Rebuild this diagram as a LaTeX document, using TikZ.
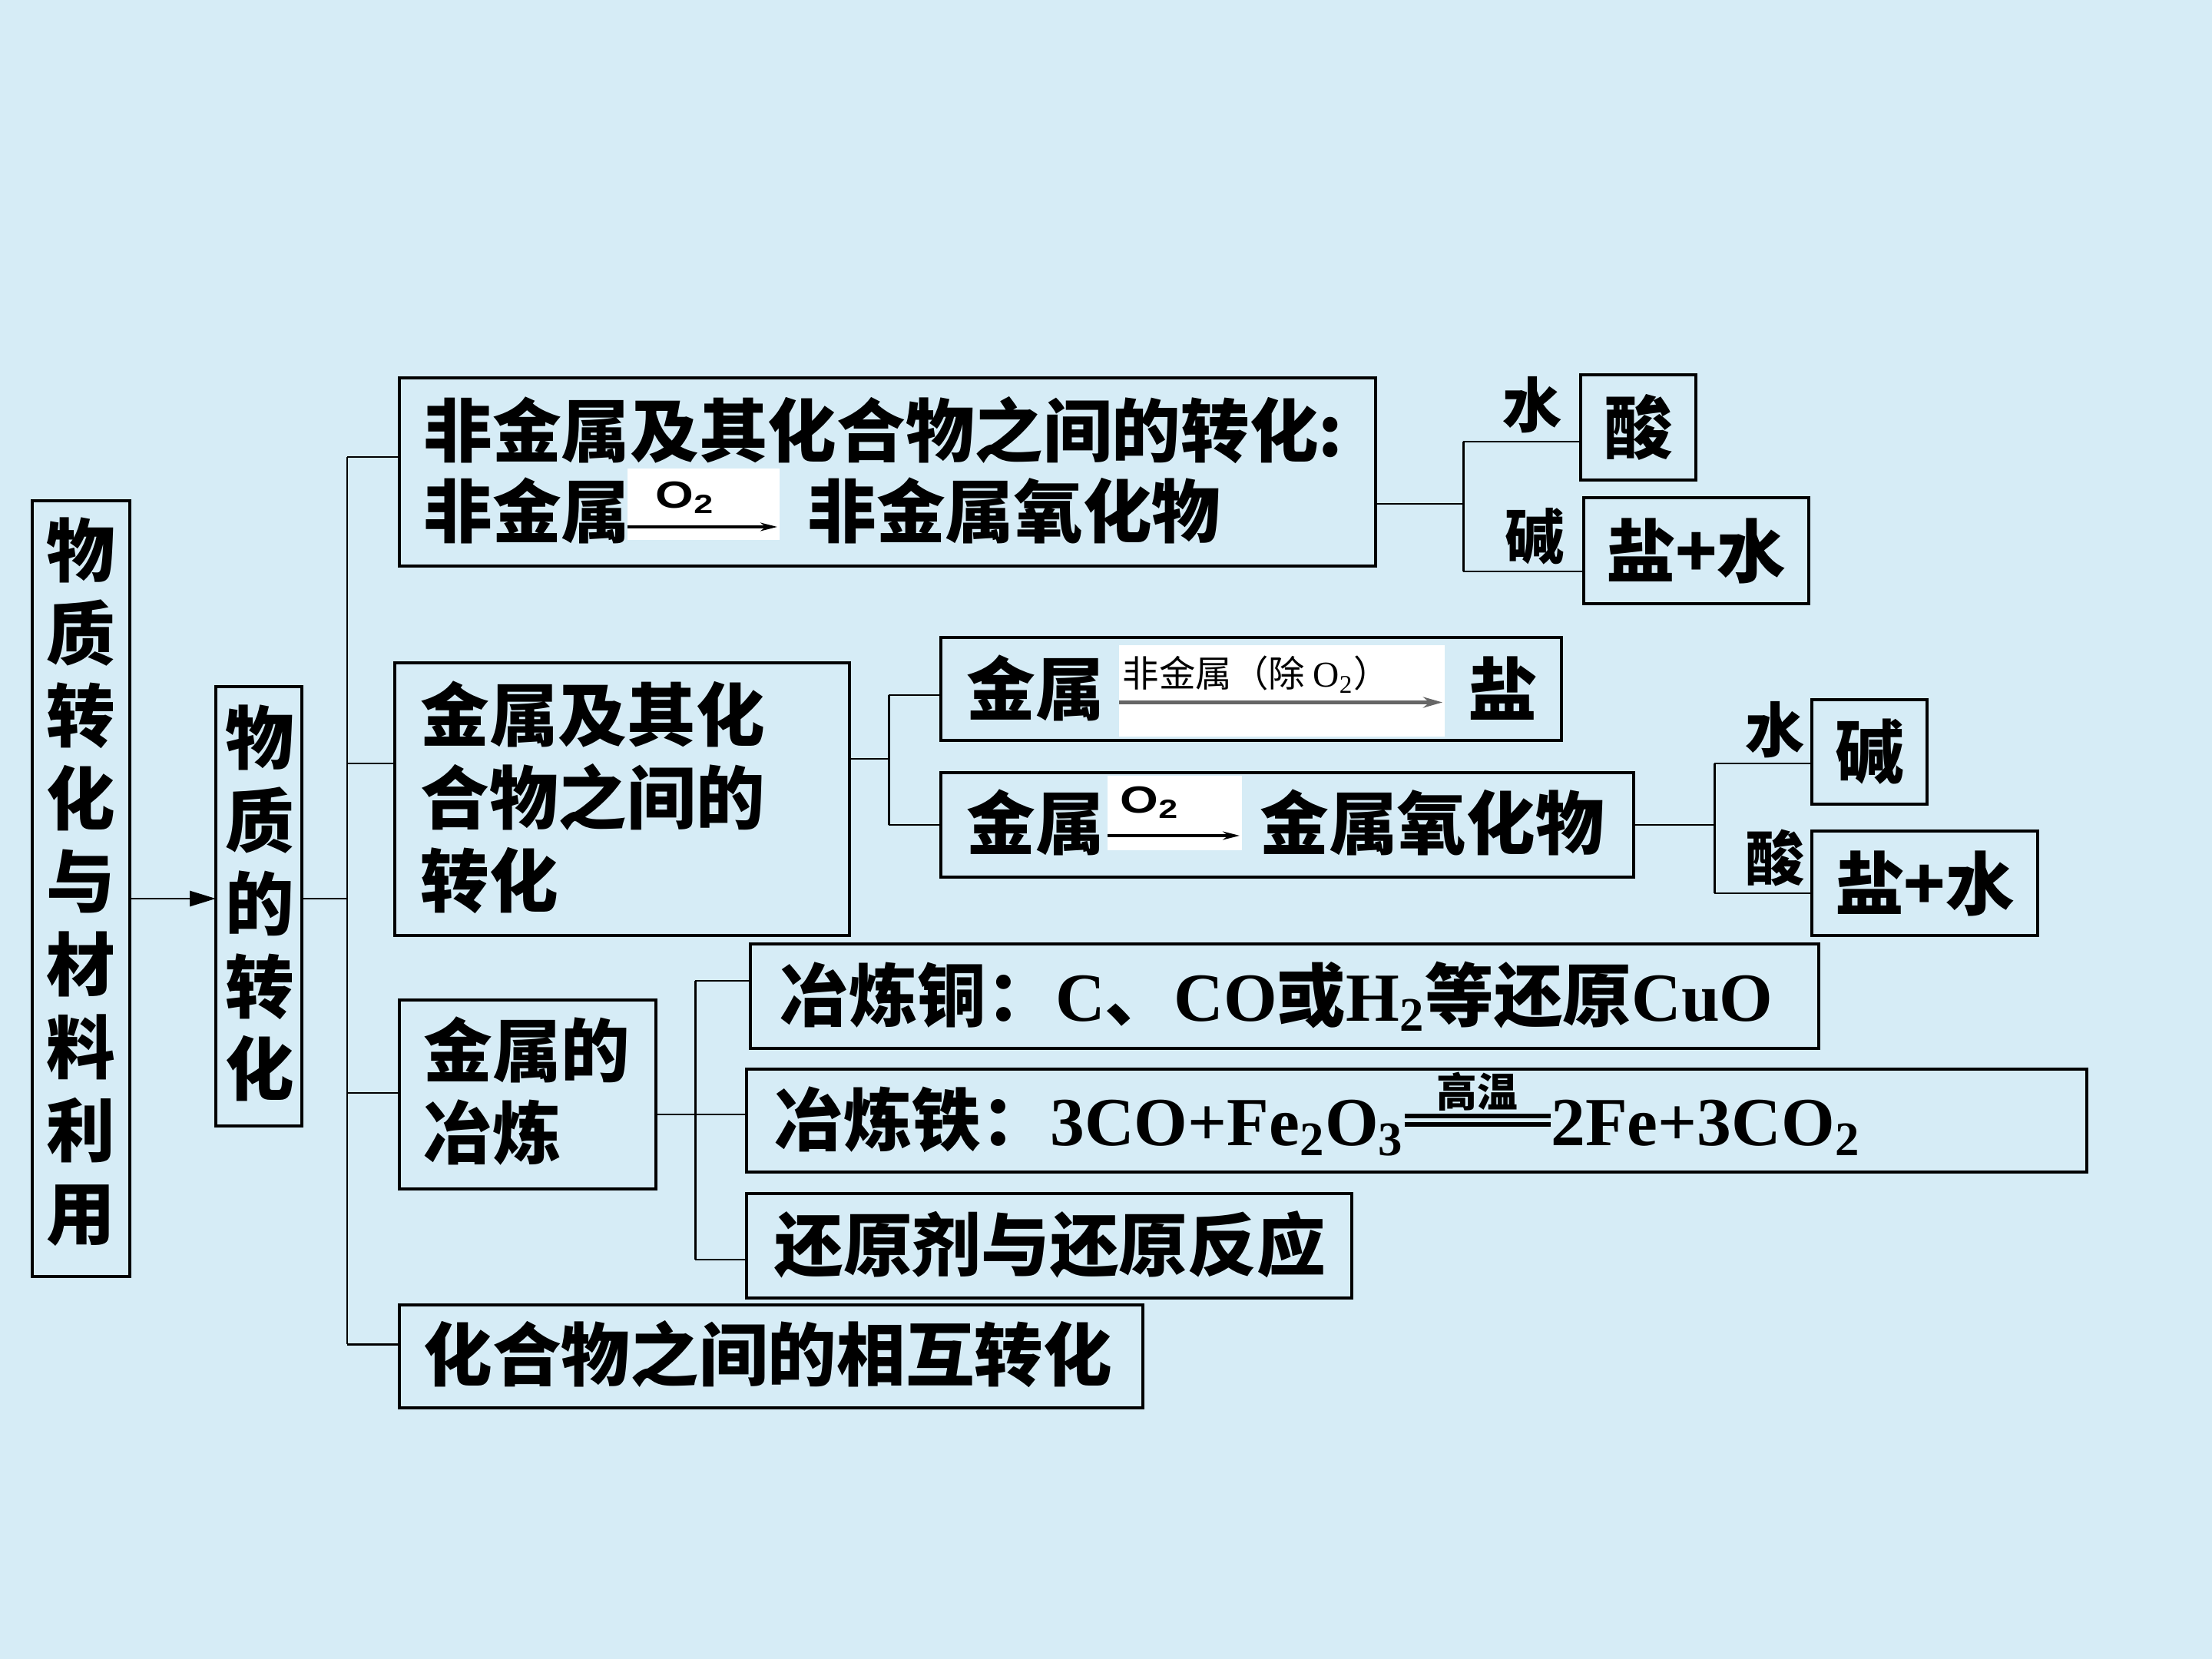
\documentclass[tikz,border=0pt]{standalone}
\usepackage{fontspec}
\setmainfont{Liberation Serif}
\newfontfamily\cjk{Noto Sans CJK SC}
\newfontfamily\sansO{Liberation Sans}
\usetikzlibrary{arrows.meta,calc}
\definecolor{bg}{RGB}{214,236,246}
\newcommand\zh[1]{{\cjk #1}}
\tikzset{
  bx/.style={draw=black,line width=1pt,anchor=north west,inner sep=0pt,outer sep=0pt},
  txt/.style={font=\cjk\bfseries\fontsize{25.5pt}{30.7pt}\selectfont,inner sep=0pt,align=left},
  txtl/.style={font=\rmfamily\bfseries\fontsize{25.5pt}{30.7pt}\selectfont,inner sep=0pt,align=left},
  lbl/.style={font=\cjk\bfseries\fontsize{22pt}{22pt}\selectfont,inner sep=0pt},
  wbox/.style={fill=white,draw=none,anchor=north west,inner sep=0pt,outer sep=0pt},
  otwo/.style={font=\sansO\bfseries\fontsize{14pt}{14pt}\selectfont,inner sep=0pt,xscale=1.3},
  smalltxt/.style={font=\cjk\fontsize{13.5pt}{13.5pt}\selectfont,inner sep=0pt},
  conn/.style={draw=black,line width=0.85pt},
  thinarr/.style={draw=black,line width=0.9pt,-{Stealth[length=0.22cm,width=0.11cm]}},
  greyarr/.style={draw=black!60,line width=1.5pt,-{Stealth[length=0.25cm,width=0.14cm]}}
}
\begin{document}
\begin{tikzpicture}[x=1cm,y=-1cm]
\fill[bg] (0,0) rectangle (28.8,21.6);
% boxes
\node[bx,minimum width=1.27cm,minimum height=10.10cm] (L) at (0.42,6.52) {};
\node[bx,minimum width=1.12cm,minimum height=5.72cm] (M) at (2.81,8.94) {};
\node[bx,minimum width=12.71cm,minimum height=2.45cm] (A) at (5.20,4.92) {};
\node[bx,minimum width=5.92cm,minimum height=3.55cm] (B) at (5.14,8.63) {};
\node[bx,minimum width=3.34cm,minimum height=2.46cm] (C) at (5.20,13.02) {};
\node[bx,minimum width=9.68cm,minimum height=1.34cm] (D) at (5.20,16.99) {};
\node[bx,minimum width=1.50cm,minimum height=1.37cm] (A1) at (20.58,4.88) {};
\node[bx,minimum width=2.93cm,minimum height=1.38cm] (A2) at (20.62,6.48) {};
\node[bx,minimum width=8.08cm,minimum height=1.34cm] (B1) at (12.25,8.30) {};
\node[bx,minimum width=9.02cm,minimum height=1.36cm] (B2) at (12.25,10.06) {};
\node[bx,minimum width=1.50cm,minimum height=1.36cm] (B3) at (23.59,9.11) {};
\node[bx,minimum width=2.94cm,minimum height=1.36cm] (B4) at (23.59,10.82) {};
\node[bx,minimum width=13.91cm,minimum height=1.36cm] (C1) at (9.77,12.29) {};
\node[bx,minimum width=17.45cm,minimum height=1.34cm] (C2) at (9.72,13.92) {};
\node[bx,minimum width=7.88cm,minimum height=1.36cm] (C3) at (9.72,15.54) {};
% texts
\node[txt,align=center] (Lt) at (1.05,11.48) {物\\质\\转\\化\\与\\材\\料\\利\\用};
\node[txt,align=center] (Mt) at (3.38,11.76) {物\\质\\的\\转\\化};
\node[txt,anchor=west] (At1) at (5.51,5.60) {非金属及其化合物之间的转化:};
\node[txt,anchor=west] (At2) at (5.51,6.65) {非金属};
\node[wbox,minimum width=1.98cm,minimum height=0.93cm] (wA) at (8.17,6.10) {};
\node[otwo] (oA) at (8.92,6.48) {O\textsubscript{2}};
\draw[thinarr] ([yshift=-0.295cm]wA.west) -- ([yshift=-0.295cm,xshift=-0.03cm]wA.east);
\node[txt,anchor=west] (At3) at (10.51,6.65) {非金属氧化物};
\node[txt,anchor=west] (Bt) at (5.47,10.38) {金属及其化\\合物之间的\\转化};
\node[txt,anchor=west] (Ct) at (5.51,14.205) {金属的\\冶炼};
\node[txt,anchor=west] (Dt) at (5.51,17.63) {化合物之间的相互转化};
\node[txt] (A1t) at (A1.center) {酸};
\node[txt] (A2t) at (A2.center) {盐+水};
\node[txt] (B3t) at (B3.center) {碱};
\node[txt] (B4t) at (B4.center) {盐+水};
% B1 content
\node[txt,anchor=west] (B1a) at (12.58,8.96) {金属};
\node[wbox,minimum width=4.24cm,minimum height=1.19cm] (wB) at (14.57,8.40) {};
\node[smalltxt,anchor=west] (wBt) at (14.61,8.78) {非金属（除 {\rmfamily O\textsubscript{2}}）};
\draw[greyarr] ([yshift=-0.15cm]wB.west) -- ([yshift=-0.15cm,xshift=-0.03cm]wB.east);
\node[txt] (B1b) at (19.56,8.96) {盐};
% B2 content
\node[txt,anchor=west] (B2a) at (12.58,10.71) {金属};
\node[wbox,minimum width=1.75cm,minimum height=0.97cm] (wC) at (14.42,10.10) {};
\node[otwo] (oC) at (14.97,10.45) {O\textsubscript{2}};
\draw[thinarr] ([yshift=-0.295cm]wC.west) -- ([yshift=-0.295cm,xshift=-0.03cm]wC.east);
\node[txt,anchor=west] (B2b) at (16.40,10.71) {金属氧化物};
% labels
\node[lbl] (l1) at (19.95,5.27) {水};
\node[lbl] (l2) at (19.98,6.98) {碱};
\node[lbl] (l3) at (23.11,9.50) {水};
\node[lbl] (l4) at (23.11,11.17) {酸};
% C boxes
\node[txtl,anchor=west] (C1t) at (10.15,12.97) {\zh{冶炼铜：}C\zh{、}CO\zh{或}H\textsubscript{2}\zh{等还原}CuO};
\node[txtl,anchor=base west] (C2a) at (10.08,14.91) {\zh{冶炼铁：}3CO+Fe\textsubscript{2}O\textsubscript{3}};
\coordinate (eqL) at (C2a.base east);
\coordinate (eqR) at ($(eqL)+(1.90,0)$);
\coordinate (eqM) at ($(eqL)!0.5!(eqR)$);
\draw[line width=1.5pt] ([yshift=0.27cm]eqL) -- ([yshift=0.27cm]eqR);
\draw[line width=1.5pt] ([yshift=0.38cm]eqL) -- ([yshift=0.38cm]eqR);
\node[font=\cjk\bfseries\fontsize{15pt}{15pt}\selectfont,anchor=south,inner sep=0pt] (gw) at ([yshift=0.44cm]eqM) {高温};
\node[txtl,anchor=base west] (C2b) at (eqR) {2Fe+3CO\textsubscript{2}};
\node[txt,anchor=west] (C3t) at (10.08,16.20) {还原剂与还原反应};
% connectors
\coordinate (t0) at (4.52,11.70);
\coordinate (tA) at (4.52,5.95);
\coordinate (tB) at (4.52,9.94);
\coordinate (tC) at (4.52,14.23);
\coordinate (tD) at (4.52,17.50);
\draw[conn,-{Triangle[length=0.34cm,width=0.2cm]}] (L.east |- t0) -- (M.west |- t0);
\draw[conn] (M.east |- t0) -- (t0);
\draw[conn] (tA) -- (tD);
\draw[conn] (tA) -- (tA -| A.west);
\draw[conn] (tB) -- (tB -| B.west);
\draw[conn] (tC) -- (tC -| C.west);
\draw[conn] (tD) -- (tD -| D.west);
\coordinate (jA) at (19.05,6.56);
\coordinate (jA1) at (19.05,5.75);
\coordinate (jA2) at (19.05,7.44);
\draw[conn] (A.east |- jA) -- (jA);
\draw[conn] (jA1) -- (jA2);
\draw[conn] (jA1) -- (jA1 -| A1.west);
\draw[conn] (jA2) -- (jA2 -| A2.west);
\coordinate (jB) at (11.57,9.88);
\coordinate (jB1) at (11.57,9.05);
\coordinate (jB2) at (11.57,10.74);
\draw[conn] (B.east |- jB) -- (jB);
\draw[conn] (jB1) -- (jB2);
\draw[conn] (jB1) -- (jB1 -| B1.west);
\draw[conn] (jB2) -- (jB2 -| B2.west);
\coordinate (jE) at (22.32,10.74);
\coordinate (jE1) at (22.32,9.94);
\coordinate (jE2) at (22.32,11.63);
\draw[conn] (B2.east |- jE) -- (jE);
\draw[conn] (jE1) -- (jE2);
\draw[conn] (jE1) -- (jE1 -| B3.west);
\draw[conn] (jE2) -- (jE2 -| B4.west);
\coordinate (jC) at (9.05,14.51);
\coordinate (jC1) at (9.05,12.77);
\coordinate (jC3) at (9.05,16.40);
\draw[conn] (C.east |- jC) -- (jC);
\draw[conn] (jC1) -- (jC3);
\draw[conn] (jC1) -- (jC1 -| C1.west);
\draw[conn] (jC) -- (jC -| C2.west);
\draw[conn] (jC3) -- (jC3 -| C3.west);
\end{tikzpicture}
\end{document}
